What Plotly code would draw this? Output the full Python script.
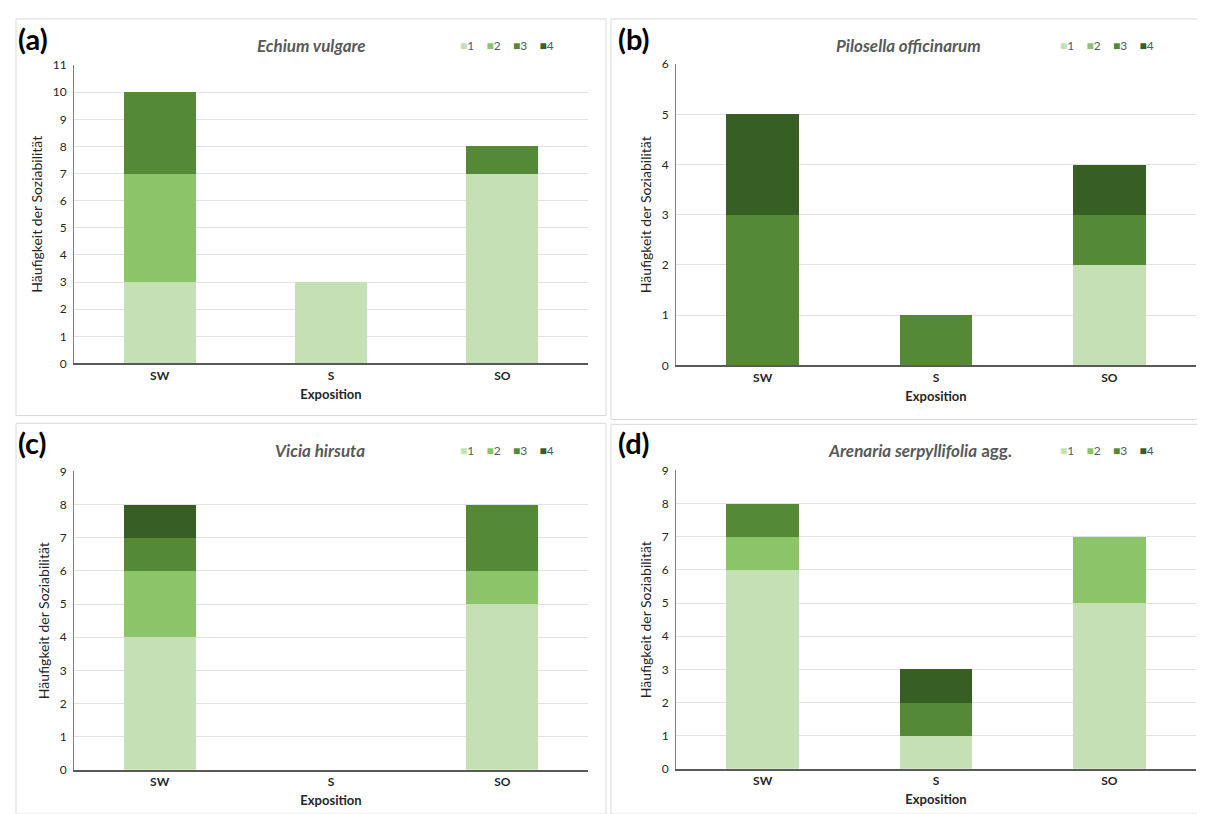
import plotly.graph_objects as go

categories = ["SW", "S", "SO"]
classes = ["1", "2", "3", "4"]
colors = ["#c5e0b4", "#8cc46a", "#548a35", "#375e23"]

echium_1 = [3, 3, 7]
echium_2 = [4, 0, 0]
echium_3 = [3, 0, 1]
echium_4 = [0, 0, 0]

pilosella_1 = [0, 0, 2]
pilosella_2 = [0, 0, 0]
pilosella_3 = [3, 1, 1]
pilosella_4 = [2, 0, 1]

vicia_1 = [4, 0, 5]
vicia_2 = [2, 0, 1]
vicia_3 = [1, 0, 2]
vicia_4 = [1, 0, 0]

arenaria_1 = [6, 1, 5]
arenaria_2 = [1, 0, 2]
arenaria_3 = [1, 1, 0]
arenaria_4 = [0, 1, 0]

panel_titles = ["<i>Echium vulgare</i>", "<i>Pilosella officinarum</i>",
                "<i>Vicia hirsuta</i>", "<i>Arenaria serpyllifolia</i> agg."]
panel_letters = ["(a)", "(b)", "(c)", "(d)"]
y_max = [11, 6, 9, 9]
panel_data = [
    [echium_1, echium_2, echium_3, echium_4],
    [pilosella_1, pilosella_2, pilosella_3, pilosella_4],
    [vicia_1, vicia_2, vicia_3, vicia_4],
    [arenaria_1, arenaria_2, arenaria_3, arenaria_4],
]

W, H = 1205, 814
FONT = "Lato"

# plot areas in pixels: x0, x1, ytop, ybottom
areas = [
    (66, 580, 50, 354),
    (668, 1188, 49, 356),
    (66, 580, 464, 768),
    (668, 1188, 463, 767),
]
# panel frames in pixels
frames = [
    (8, 598, 3, 407),
    (603, 1203, 3, 411),
    (8, 598, 415, 813),
    (603, 1203, 416, 813),
]
letter_pos = [(8, 23), (608, 23), (8, 435), (608, 435)]
title_y = [30, 30, 443, 443]
title_x = [303, 900, 312, 912]
legend_x = [450, 1050, 450, 1050]

fig = go.Figure()
layout_upd = {}
for i in range(4):
    xa = "x" if i == 0 else f"x{i+1}"
    ya = "y" if i == 0 else f"y{i+1}"
    for k in range(4):
        fig.add_trace(go.Bar(
            x=categories, y=panel_data[i][k], name=classes[k],
            marker=dict(color=colors[k], line=dict(width=0)),
            xaxis=xa, yaxis=ya, showlegend=False,
        ))
    x0, x1, yt, yb = areas[i]
    xkey = "xaxis" if i == 0 else f"xaxis{i+1}"
    ykey = "yaxis" if i == 0 else f"yaxis{i+1}"
    layout_upd[xkey] = dict(
        domain=[x0 / W, x1 / W], anchor=ya,
        showline=True, linecolor="#595959", linewidth=1.5,
        ticks="", tickfont=dict(family=FONT, size=12, color="#262626", weight="bold"),
        title=dict(text="<b>Exposition</b>", font=dict(family=FONT, size=13, color="#262626"), standoff=8),
        showgrid=False, fixedrange=True,
    )
    layout_upd[ykey] = dict(
        domain=[1 - yb / H, 1 - yt / H], anchor=xa,
        range=[0, y_max[i]], dtick=1, showline=True, linecolor="#7f7f7f", linewidth=1,
        showgrid=True, gridcolor="#e3e3e3", gridwidth=1, zeroline=False,
        tickfont=dict(family=FONT, size=12, color="#262626"), ticklabelstandoff=4,
        title=dict(text="Häufigkeit der Soziabilität", font=dict(family=FONT, size=14, color="#262626"), standoff=6),
        ticks="", ticklen=0,
    )

fig.update_layout(**layout_upd)

annotations = []
shapes = []
gap = "&nbsp;" * 4
for i in range(4):
    x0, x1, yt, yb = areas[i]
    fx0, fx1, fy0, fy1 = frames[i]
    shapes.append(dict(type="rect", xref="paper", yref="paper",
                       x0=fx0 / W, x1=fx1 / W, y0=1 - fy1 / H, y1=1 - fy0 / H,
                       line=dict(color="#d9d9d9", width=1), fillcolor="rgba(0,0,0,0)", layer="below"))
    lx, ly = letter_pos[i]
    annotations.append(dict(text=f"<b>{panel_letters[i]}</b>", x=lx / W, y=1 - ly / H,
                            xref="paper", yref="paper", xanchor="left", yanchor="middle",
                            showarrow=False, font=dict(family=FONT, size=29, color="#000000")))
    annotations.append(dict(text=f"<b>{panel_titles[i]}</b>", x=title_x[i] / W, y=1 - title_y[i] / H,
                            xref="paper", yref="paper", xanchor="center", yanchor="middle",
                            showarrow=False, font=dict(family=FONT, size=17, color="#595959")))
    legend_text = gap.join(
        f"<span style='color:{colors[k]}'>■</span>{classes[k]}" for k in range(4)
    )
    annotations.append(dict(text=legend_text, x=legend_x[i] / W, y=1 - title_y[i] / H,
                            xref="paper", yref="paper", xanchor="left", yanchor="middle",
                            showarrow=False, font=dict(family=FONT, size=12, color="#595959")))

fig.update_layout(
    width=W, height=H, margin=dict(l=0, r=0, t=0, b=0),
    paper_bgcolor="white", plot_bgcolor="white",
    barmode="stack", bargap=0.58, showlegend=False,
    annotations=annotations, shapes=shapes,
    font=dict(family=FONT),
)

fig.write_html("out.html")
